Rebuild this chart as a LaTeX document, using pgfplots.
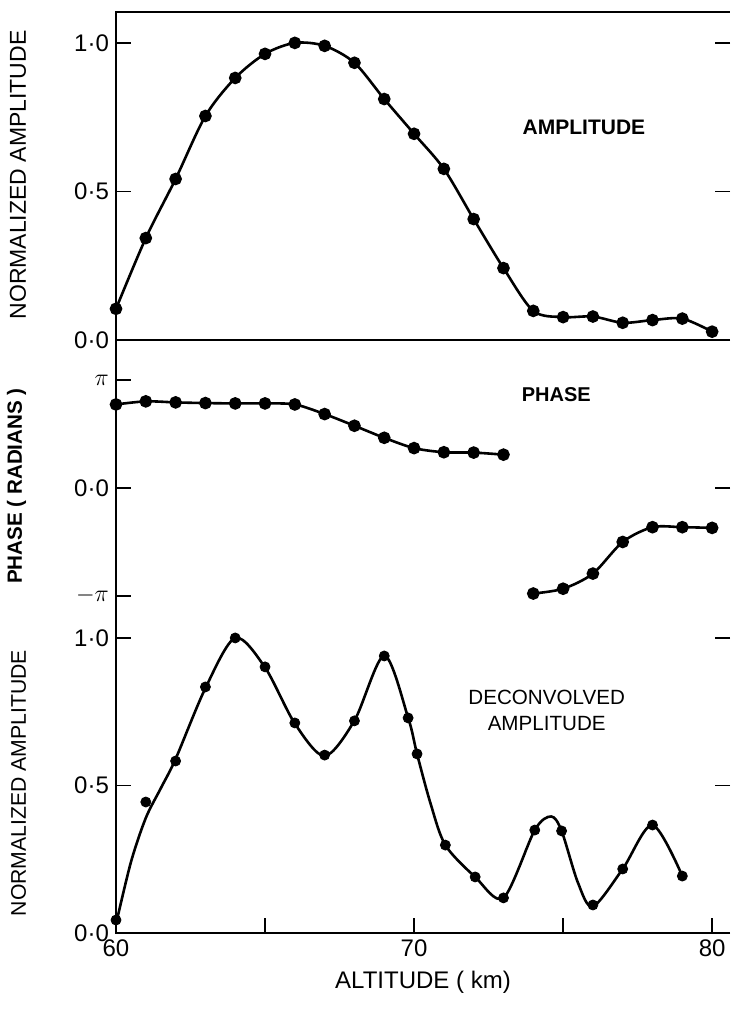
\documentclass[border=0pt]{standalone}
\usepackage{fontspec}
\setmainfont{Liberation Sans}
\usepackage{pgfplots}
\pgfplotsset{compat=1.18}

% 1 px of the reference = 0.5pt
\pgfplotsset{
  panel/.style={
    scale only axis, width=307pt, xmin=60, xmax=80.6,
    axis line style={draw=none},
    tick align=inside, major tick length=7.5pt,
    every tick/.style={black, line width=0.9pt},
    clip=false, xtick=\empty,
    ytick pos=both, yticklabel pos=left,
    tick label style={font=\fontsize{12}{14}\selectfont},
    every axis y label/.style={rotate=90, anchor=south, font=\fontsize{11.5}{14}\selectfont},
  },
  curve/.style={black, line width=1.3pt, smooth, mark=*, mark size=2.5pt,
    mark options={solid, fill=black}},
}

\begin{document}
\begin{tikzpicture}
% ---------- amplitude ----------
\begin{axis}[panel, name=top, height=164pt, ymin=0, ymax=1.104,
  ytick={0,0.5,1}, yticklabels={0·0,0·5,1·0},
  ylabel={NORMALIZED AMPLITUDE},
  ylabel style={at={(axis description cs:-0.135,0.503)}}]
\addplot[curve] coordinates {
 (60,0.105) (61,0.343) (62,0.542) (63,0.754) (64,0.882) (65,0.963)
 (66,1.0) (67,0.99) (68,0.933) (69,0.811) (70,0.694) (71,0.576)
 (72,0.407) (73,0.242) (74,0.098) (75,0.077) (76,0.079) (77,0.058)
 (78,0.067) (79,0.072) (80,0.028)};
\draw[line width=1pt] (rel axis cs:0,0) -- (rel axis cs:0,1) -- (rel axis cs:1,1);
\draw[line width=1pt] (rel axis cs:0,0) -- (rel axis cs:1,0);
\node[font=\bfseries\fontsize{10.5}{12}\selectfont] at (axis cs:75.7,0.714) {AMPLITUDE};
\end{axis}

% ---------- phase ----------
\begin{axis}[panel, name=mid, at={(top.south west)}, anchor=north west,
  height=136pt, ymin=-3.607, ymax=4.305, ytick pos=left,
  ytick={-3.14159,0,3.14159}, yticklabels={$-\pi$,0·0,$\pi$},
  ylabel={\bfseries PHASE ( RADIANS )},
  ylabel style={at={(axis description cs:-0.135,0.463)}, font=\fontsize{10.3}{12}\selectfont}]
\addplot[curve] coordinates {
 (60,2.43) (61,2.52) (62,2.49) (63,2.47) (64,2.46) (65,2.46) (66,2.43)
 (67,2.15) (68,1.81) (69,1.46) (70,1.16) (71,1.04) (72,1.03) (73,0.97)};
\addplot[curve] coordinates {
 (74,-3.07) (75,-2.93) (76,-2.49) (77,-1.57) (78,-1.14) (79,-1.14) (80,-1.16)};
\draw[line width=1pt] (rel axis cs:0,0) -- (rel axis cs:0,1);
\draw[line width=0.9pt] (axis cs:80.6,0) -- ([xshift=-7.5pt]axis cs:80.6,0);
\node[font=\bfseries\fontsize{10}{12}\selectfont] at (axis cs:74.77,2.705) {PHASE};
\end{axis}

% ---------- deconvolved amplitude ----------
\begin{axis}[panel, name=bot, at={(mid.south west)}, anchor=north west,
  height=160.5pt, ymin=0, ymax=1.088,
  ytick={0,0.5,1}, yticklabels={0·0,0·5,1·0},
  xtick={60,65,70,75,80}, xticklabels={60,,70,,80}, xtick pos=bottom,
  ylabel={NORMALIZED AMPLITUDE},
  ylabel style={at={(axis description cs:-0.135,0.467)}, font=\fontsize{10.6}{12}\selectfont},
  xlabel={ALTITUDE ( km)},
  xlabel style={font=\fontsize{12}{14}\selectfont}]
\addplot[black, line width=1.3pt, smooth] coordinates {
 (60,0.03) (60.5,0.24) (61,0.39) (61.5,0.49) (62,0.59)
 (63,0.83) (64,1.0) (65,0.9) (66,0.71) (67,0.6) (68,0.72) (69,0.94)
 (69.8,0.73) (70.1,0.607) (70.55,0.44) (71.05,0.298) (72.05,0.19)
 (73,0.119) (74.05,0.349) (74.6,0.395) (74.95,0.346) (75.5,0.17)
 (76,0.09) (77,0.217) (78,0.366) (79,0.193)};
\addplot[only marks, mark=*, mark size=2.5pt, black] coordinates {
 (60,0.044) (61,0.444) (62,0.583) (63,0.834) (64,1.0) (65,0.902)
 (66,0.712) (67,0.603) (68,0.719) (69,0.939) (69.8,0.729) (70.1,0.607)
 (71.05,0.298) (72.05,0.19) (73,0.119) (74.05,0.349) (74.95,0.346)
 (76,0.095) (77,0.217) (78,0.366) (79,0.193)};
\draw[line width=1pt] (rel axis cs:0,1) -- (rel axis cs:0,0) -- (rel axis cs:1,0);
\node[align=center, font=\fontsize{10.3}{13}\selectfont] at (axis cs:74.45,0.756) {DECONVOLVED\\AMPLITUDE};
\end{axis}

\path (top.north west) ++(-58pt,6pt) coordinate (tl);
\path (bot.south east) ++(0,-38.5pt) coordinate (br);
\path (tl) rectangle (br);
\end{tikzpicture}
\end{document}
